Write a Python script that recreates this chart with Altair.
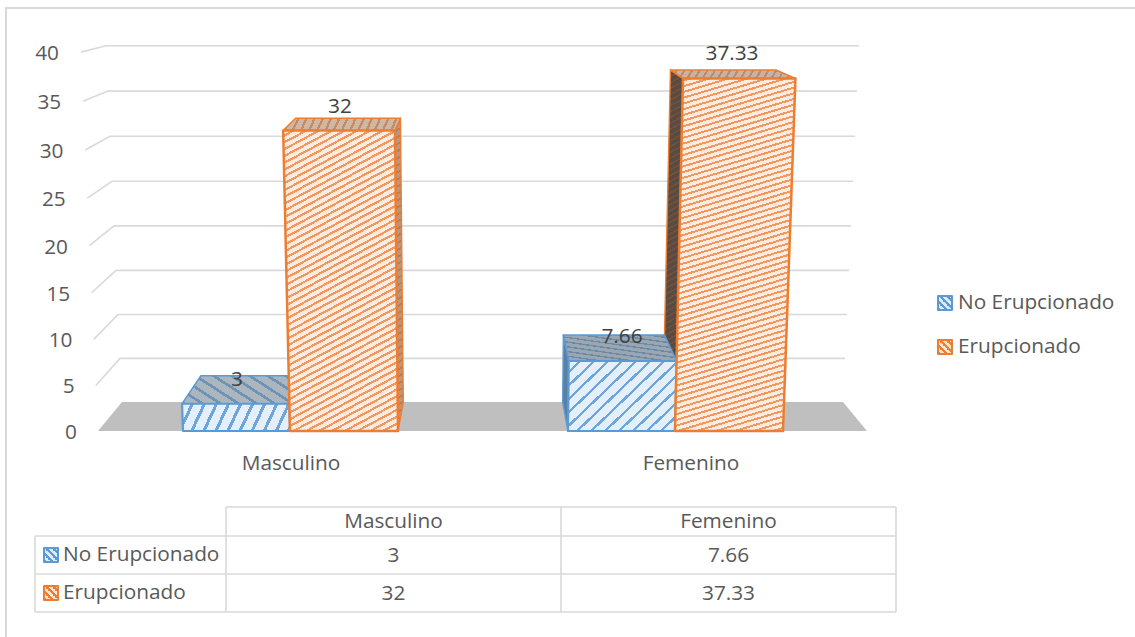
import altair as alt
import pandas as pd

# Survey values shown in the columns and in the data table
categories = ["Masculino", "Femenino"]
series_names = ["No Erupcionado", "Erupcionado"]
no_erupcionado = [3, 7.66]
erupcionado = [32, 37.33]
tick_values = [0, 5, 10, 15, 20, 25, 30, 35, 40]

W, H = 1135, 637
FONT = "Open Sans"
TEXT = "#595959"
LABEL = "#404040"
GRID = "#D9D9D9"
BLUE, ORANGE = "#5B9BD5", "#ED7D31"

# Screen placement of value 0 and the size of one plotting unit on the y scale
BASE_Y, UNIT = 431.0, 9.45
CENTER_X = 482.5


def y_of_px(py):
    return (BASE_Y - py) / UNIT


def project(x0, v, back=False):
    """Perspective view: returns the plane x and scale y of a box corner at value v."""
    x = x0
    if back:
        x = CENTER_X + 0.9376 * (x0 - CENTER_X)
        y = (29 + 8.7 * v + 0.0052 * v * v) / UNIT
    else:
        y = (9.06 * v + 0.0103 * v * v) / UNIT
    x = x + 0.00111 * (x - CENTER_X) * v
    return x, y


def hatch(w, h, bg, fg, period, dx=1.0, dy=0.6, duty=0.3):
    """Striped fill as a hard-stop linear gradient across a w by h box.

    Stripes run along (dx, -dy) on screen: dy > 0 climbs to the right, dy < 0 falls.
    """
    gx, gy = abs(dy) / h, dx / w
    s = (gx + gy) / (gx * gx + gy * gy)
    span = (abs(dy) * w + dx * h) / (dx * dx + dy * dy) ** 0.5
    n = max(2, int(round(span / period)))
    stops = []
    for i in range(n):
        a, b, c = i / n, (i + 1 - duty) / n, (i + 1) / n
        stops += [
            {"offset": a, "color": bg},
            {"offset": b, "color": bg},
            {"offset": b, "color": fg},
            {"offset": c, "color": fg},
        ]
    if dy >= 0:
        x1, x2 = 0, gx * s
    else:
        x1, x2 = 1, 1 - gx * s
    return {"gradient": "linear", "x1": x1, "y1": 0, "x2": x2, "y2": gy * s, "stops": stops}


x_scale = alt.Scale(domain=[0, W], range=[0, W], nice=False, zero=False)
y_scale = alt.Scale(domain=[y_of_px(H), y_of_px(0)], range=[H, 0], nice=False, zero=False)


def enc(chart):
    return chart.encode(
        x=alt.X("x:Q", scale=x_scale, axis=None),
        y=alt.Y("y:Q", scale=y_scale, axis=None),
    )


def polygon(points, fill, stroke=None, width=1.0):
    df = pd.DataFrame(points, columns=["x", "y"]).assign(i=range(len(points)))
    kw = {"stroke": stroke or fill, "strokeWidth": width if stroke else 0}
    return enc(
        alt.Chart(df).mark_line(fill=fill, interpolate="linear-closed", strokeJoin="round", **kw)
    ).encode(order=alt.Order("i:Q"))


def polyline(points, color, width):
    df = pd.DataFrame(points, columns=["x", "y"]).assign(i=range(len(points)))
    return enc(
        alt.Chart(df).mark_line(color=color, strokeWidth=width)
    ).encode(order=alt.Order("i:Q"))


def text_layer(rows, align="center", color=TEXT, size=20.8, dy=0):
    df = pd.DataFrame(rows, columns=["x", "y", "t"])
    return enc(
        alt.Chart(df).mark_text(
            font=FONT, fontSize=size, color=color, align=align, baseline="middle", dy=dy
        )
    ).encode(text="t:N")


layers = []

# Floor and back-wall gridlines with their short return along the side wall
FLOOR_L, FLOOR_R = 98, 867
layers.append(polygon([project(FLOOR_L, 0), project(FLOOR_R, 0),
                       project(FLOOR_R, 0, True), project(FLOOR_L, 0, True)], "#BFBFBF"))
for v in tick_values[1:]:
    layers.append(polyline([project(FLOOR_L, v), project(FLOOR_L, v, True),
                            project(FLOOR_R, v, True)], GRID, 1.6))

# Front-face edges of each column on the floor line
BOX = {("Masculino", 0): (183, 290), ("Masculino", 1): (290, 398),
       ("Femenino", 0): (568, 675), ("Femenino", 1): (675, 783)}

m_blue, m_orange = no_erupcionado[0], erupcionado[0]
f_blue, f_orange = no_erupcionado[1], erupcionado[1]

# Masculino, No Erupcionado
l, r = BOX[("Masculino", 0)]
layers.append(polygon([project(l, m_blue), project(r, m_blue),
                       project(r, m_blue, True), project(l, m_blue, True)],
                      hatch(107, 27, "#ACB6BF", "#6F93B5", 9, dx=1, dy=-0.7, duty=0.28), BLUE, 1.5))
layers.append(polygon([project(l, 0), project(r, 0), project(r, m_blue), project(l, m_blue)],
                      hatch(107, 28, "#E3EFFA", "#6EA6DC", 10.5, dx=0.45, dy=1, duty=0.28), BLUE, 2.2))

# Masculino, Erupcionado
l, r = BOX[("Masculino", 1)]
layers.append(polygon([project(r, m_orange), project(r, m_orange, True),
                       project(r, 0, True), project(r, 0)],
                      hatch(8, 310, "#B89880", "#C4794A", 6), ORANGE, 1.4))
layers.append(polygon([project(l, m_orange), project(r, m_orange),
                       project(r, m_orange, True), project(l, m_orange, True)],
                      hatch(115, 11, "#CDB8A8", "#C98A5F", 7, dx=0.5, dy=1), ORANGE, 1.6))
layers.append(polygon([project(l, 0), project(r, 0), project(r, m_orange), project(l, m_orange)],
                      hatch(112, 302, "#FDEBDF", "#F2985F", 6, dx=1, dy=0.55, duty=0.36), ORANGE, 2.5))

# Femenino, Erupcionado
l, r = BOX[("Femenino", 1)]
layers.append(polygon([project(l, f_orange, True), project(l, f_orange),
                       project(l, 0), project(l, 0, True)],
                      hatch(18, 360, "#5A4A3F", "#6F5240", 5), ORANGE, 1.4))
layers.append(polygon([project(l, f_orange), project(r, f_orange),
                       project(r, f_orange, True), project(l, f_orange, True)],
                      hatch(125, 10, "#C4B4A8", "#C9885C", 7, dx=0.5, dy=1), ORANGE, 1.6))

# Femenino, No Erupcionado
l, r = BOX[("Femenino", 0)]
layers.append(polygon([project(l, f_blue, True), project(l, f_blue),
                       project(l, 0), project(l, 0, True)],
                      hatch(6, 96, "#5E7E9E", "#4F83B5", 5), BLUE, 1.4))
layers.append(polygon([project(l, f_blue), project(r, f_blue),
                       project(r, f_blue, True), project(l, f_blue, True)],
                      hatch(112, 27, "#9AA6B1", "#6B8AA6", 5, dx=1, dy=-0.15), BLUE, 1.6))
layers.append(polygon([project(l, 0), project(r, 0), project(r, f_blue), project(l, f_blue)],
                      hatch(107, 72, "#E3EFFA", "#6EA6DC", 10, dx=1, dy=1, duty=0.24), BLUE, 2.2))

l, r = BOX[("Femenino", 1)]
layers.append(polygon([project(l, 0), project(r, 0), project(r, f_orange), project(l, f_orange)],
                      hatch(120, 352, "#FDEBDF", "#F2985F", 5.5, dx=1, dy=0.3, duty=0.36), ORANGE, 2.5))

# Value axis labels follow the slanted left wall
layers.append(text_layer([(project(77, v)[0], project(77, v)[1], str(v)) for v in tick_values],
                         align="right", dy=2))

# Data labels above each column
label_x = [237, 622, 340, 732]
label_v = no_erupcionado + erupcionado
label_t = ["3", "7.66", "32", "37.33"]
layers.append(text_layer([(x, project(x, v)[1], t) for x, v, t in zip(label_x, label_v, label_t)],
                         color=LABEL, dy=-24))

# Category labels under the floor
layers.append(text_layer([(291, y_of_px(464), categories[0]),
                          (691, y_of_px(464), categories[1])]))


# Side legend
def swatch(x, py, color, pale):
    return polygon([(x, y_of_px(py)), (x + 14, y_of_px(py)),
                    (x + 14, y_of_px(py + 14)), (x, y_of_px(py + 14))],
                   hatch(14, 14, pale, color, 5, dx=1, dy=-1, duty=0.5), color, 2)


layers += [swatch(938, 296, BLUE, "#DEEBF7"), swatch(938, 340, ORANGE, "#FBE5D6")]
layers.append(text_layer([(958, y_of_px(303), series_names[0]),
                          (958, y_of_px(347), series_names[1])], align="left"))

# Data table: grid, header row, and the two series rows
T_L, T_C1, T_C2, T_R = 35, 226, 561, 896
T_TOP, T_R1, T_R2, T_BOT = 507, 536, 574, 612
for a, b in [((T_C1, T_TOP), (T_R, T_TOP)), ((T_L, T_R1), (T_R, T_R1)),
             ((T_L, T_R2), (T_R, T_R2)), ((T_L, T_BOT), (T_R, T_BOT)),
             ((T_L, T_R1), (T_L, T_BOT)), ((T_C1, T_TOP), (T_C1, T_BOT)),
             ((T_C2, T_TOP), (T_C2, T_BOT)), ((T_R, T_TOP), (T_R, T_BOT))]:
    layers.append(polyline([(a[0], y_of_px(a[1])), (b[0], y_of_px(b[1]))], GRID, 1.6))

layers += [swatch(44, 548, BLUE, "#DEEBF7"), swatch(44, 586, ORANGE, "#FBE5D6")]
layers.append(text_layer([(63, y_of_px(555), series_names[0]),
                          (63, y_of_px(593), series_names[1])], align="left"))
C1, C2 = (T_C1 + T_C2) / 2, (T_C2 + T_R) / 2
layers.append(text_layer([(C1, y_of_px(522), categories[0]), (C2, y_of_px(522), categories[1]),
                          (C1, y_of_px(556), str(no_erupcionado[0])), (C2, y_of_px(556), str(no_erupcionado[1])),
                          (C1, y_of_px(594), str(erupcionado[0])), (C2, y_of_px(594), str(erupcionado[1]))]))

# Chart frame
layers.append(polyline([(6, y_of_px(637)), (6, y_of_px(8)), (1135, y_of_px(8))], GRID, 2))

chart = alt.layer(*layers).properties(
    width=W, height=H, padding=0, autosize=alt.AutoSizeParams(type="none"), background="white"
).configure_view(stroke=None)

chart.save("out.html", embed_options={"renderer": "svg", "actions": False})
